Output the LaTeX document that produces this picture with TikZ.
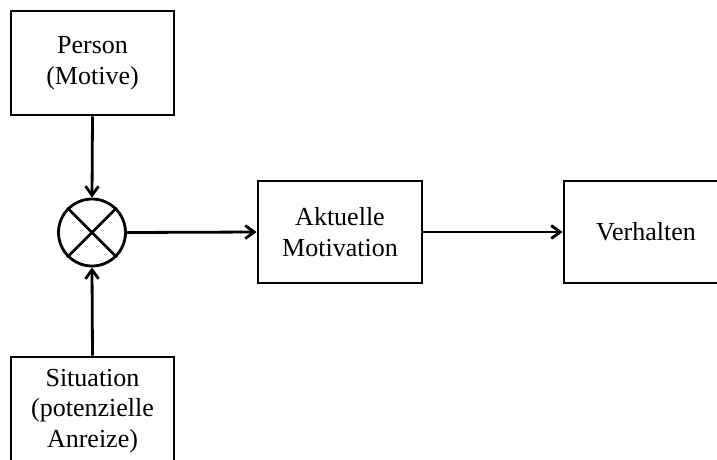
\documentclass[tikz,border=0pt]{standalone}
\usepackage{fontspec}
\setmainfont{Liberation Serif}
\usetikzlibrary{arrows.meta}
\begin{document}
\begin{tikzpicture}[x=1pt,y=-1pt,
  line width=2.8pt,
  box/.style={draw, rectangle, inner sep=0pt, align=center,
    font=\fontsize{26}{30.5}\selectfont},
  conn/.style={-{Straight Barb[length=9pt,width=13pt,line width=2.8pt]}},
]
\useasboundingbox (0,0) rectangle (717,459);
\begin{scope}
\clip (0,0) rectangle (717,459);
% input boxes
\node[box, minimum width=163pt, minimum height=104pt] (person) at (92.5,63) {Person\\(Motive)};
\node[box, minimum width=163pt, minimum height=108pt] (situation) at (92.5,411) {Situation\\(potenzielle\\Anreize)};
% multiplication junction
\node[draw, circle, minimum size=67pt, inner sep=0pt] (mult) at (92,232.5) {};
\draw (mult.north west) -- (mult.south east);
\draw (mult.north east) -- (mult.south west);
% processing chain
\node[box, minimum width=164pt, minimum height=102pt] (motivation) at (340,232) {Aktuelle\\Motivation};
\node[box, minimum width=164pt, minimum height=102pt] (verhalten) at (646,232) {Verhalten};
% connectors
\draw[conn] (person.south) -- (mult.north);
\draw[conn] (situation.north) -- (mult.south);
\draw[conn] (mult.east) -- (motivation.west);
\draw[conn] (motivation.east) -- (verhalten.west);
\end{scope}
\end{tikzpicture}
\end{document}
